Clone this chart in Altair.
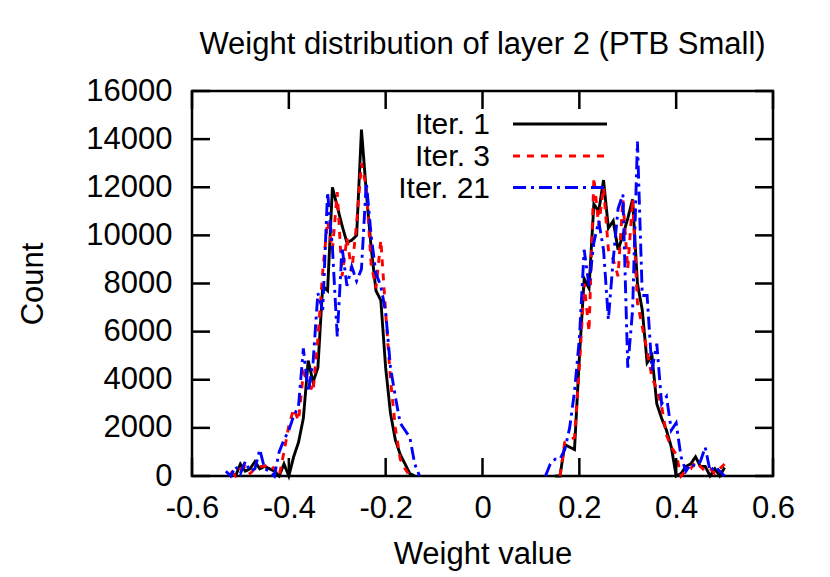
import altair as alt
import pandas as pd

# ---------------- data ----------------
left_x = [-0.53, -0.52, -0.51, -0.50, -0.49, -0.48, -0.47, -0.46, -0.45, -0.44,
          -0.43, -0.42, -0.41, -0.40, -0.39, -0.38, -0.37, -0.36, -0.35, -0.34,
          -0.33, -0.32, -0.31, -0.30, -0.29, -0.28, -0.27, -0.26, -0.25, -0.24,
          -0.23, -0.22, -0.21, -0.20, -0.19, -0.18, -0.17, -0.16, -0.15, -0.14,
          -0.13]
right_x = [0.13, 0.14, 0.15, 0.16, 0.17, 0.18, 0.19, 0.20, 0.21, 0.22,
           0.23, 0.24, 0.25, 0.26, 0.27, 0.28, 0.29, 0.30, 0.31, 0.32,
           0.33, 0.34, 0.35, 0.36, 0.37, 0.38, 0.39, 0.40, 0.41, 0.42,
           0.43, 0.44, 0.45, 0.46, 0.47, 0.48, 0.49, 0.50, 0.51]

iter1_left = [None, None, 0, 500, 200, 300, 600, 300, 400, 300,
              200, 0, 500, 0, 800, 1400, 2400, 4800, 3900, 4500,
              7900, 7700, 12000, 11200, 10400, 9700, 9800, 10000, 14400, 11800,
              9500, 7700, 7300, 4500, 2600, 1500, 900, 500, 100, 0,
              None]
iter3_left = [None, 200, 0, 300, 400, 100, 300, 400, 400, 500,
              300, 0, 1000, 2100, 2800, 2300, 4300, 3900, 3500, 5700,
              8500, 10600, 9400, 11800, 8300, 9900, 8500, 10500, 13000, 12000,
              8800, 7800, 9800, 6800, 4000, 2000, 700, 300, 0, None,
              None]
iter21_left = [200, 0, 400, 100, 600, 200, 300, 1100, 300, 200,
               0, 1000, 1500, 1900, 2500, 2900, 5300, 3500, 4700, 7600,
               6900, 11800, 9500, 5800, 9500, 7900, 8700, 8100, 8600, 12200,
               10000, 8400, 7900, 6800, 4500, 3300, 2200, 1900, 1600, 500,
               0]

iter1_right = [None, None, 0, 0, 1300, 1200, 1100, 4900, 8200, 7800,
               11300, 11000, 12300, 10300, 10600, 9400, 10000, 10700, 11500, 8000,
               6900, 4700, 5000, 3000, 2400, 1900, 1200, 0, 100, 400,
               500, 800, 400, 400, 0, 300, 0, 350, None]
iter3_right = [None, None, None, 0, 1400, 1500, 1600, 4500, 8000, 6000,
               12400, 10400, 12000, 9400, 9000, 8300, 11500, 8600, 11500, 7200,
               6200, 5200, 4100, 3600, 2900, 1700, 1200, 900, 0, 200,
               300, 600, 400, 200, 300, 100, 300, 500, None]
iter21_right = [0, 500, 700, 700, 1100, 2000, 3500, 5700, 9400, 7900,
                9700, 10600, 9400, 6500, 9000, 11100, 11700, 4500, 6900, 13900,
                7500, 7500, 4400, 5500, 3000, 3300, 1900, 2200, 800, 200,
                500, 400, 600, 1200, 200, 400, 200, 0, None]

series_names = ["Iter. 1", "Iter. 3", "Iter. 21"]
series_colors = ["#000000", "#ff0000", "#0000ff"]
series_dash = [[1, 0], [7, 7], [13, 5, 3, 5]]

x_ticks = [-0.6, -0.4, -0.2, 0, 0.2, 0.4, 0.6]
y_ticks = [0, 2000, 4000, 6000, 8000, 10000, 12000, 14000, 16000]

# ---------------- table ----------------
rows = []
for name, lv, rv in zip(series_names,
                        [iter1_left, iter3_left, iter21_left],
                        [iter1_right, iter3_right, iter21_right]):
    for xv, yv in zip(left_x, lv):
        if yv is not None:
            rows.append({"series": name, "part": "L", "w": xv, "count": yv})
    for xv, yv in zip(right_x, rv):
        if yv is not None:
            rows.append({"series": name, "part": "R", "w": xv, "count": yv})
df = pd.DataFrame(rows)

W, H = 581, 385
FONT = "Liberation Sans"
FS = 31
LFS = 30

xscale = alt.Scale(domain=[-0.6, 0.6], nice=False, zero=False)
yscale = alt.Scale(domain=[0, 16000], nice=False)

x_label_expr = ("datum.value < 0 ? '-' + format(-datum.value, '.1f') : "
                "(datum.value == 0 ? '0' : format(datum.value, '.1f'))")

x_axis = alt.Axis(values=x_ticks, labelExpr=x_label_expr, title="Weight value",
                  labelFlush=False, labelPadding=17,
                  titleX=W / 2, titleY=87, titleBaseline="alphabetic", titleAnchor="middle")
y_axis = alt.Axis(values=y_ticks, format="d", title="Count", labelFlush=False,
                  labelPadding=20,
                  titleX=-150, titleY=H / 2, titleBaseline="alphabetic",
                  titleAnchor="middle", titleAngle=270)

base = alt.Chart(df)

layers = []
for name, col, dash in zip(series_names, series_colors, series_dash):
    layers.append(
        base.transform_filter(alt.datum.series == name)
        .mark_line(color=col, strokeDash=dash, strokeWidth=2.9, strokeCap="butt")
        .encode(x=alt.X("w:Q", scale=xscale, axis=x_axis, title="Weight value"),
                y=alt.Y("count:Q", scale=yscale, axis=y_axis, title="Count"),
                detail="part:N")
    )

# inward ticks on all four sides
xt = pd.DataFrame({"t": x_ticks})
yt = pd.DataFrame({"t": y_ticks})
TL = 18
tick_layers = [
    alt.Chart(xt).mark_rule(color="black", strokeWidth=2.5).encode(
        x=alt.X("t:Q", scale=xscale, axis=x_axis, title="Weight value"),
        y=alt.value(H), y2=alt.value(H - TL)),
    alt.Chart(xt).mark_rule(color="black", strokeWidth=2.5).encode(
        x=alt.X("t:Q", scale=xscale, axis=x_axis, title="Weight value"),
        y=alt.value(0), y2=alt.value(TL)),
    alt.Chart(yt).mark_rule(color="black", strokeWidth=2.5).encode(
        y=alt.Y("t:Q", scale=yscale, axis=y_axis, title="Count"),
        x=alt.value(0), x2=alt.value(TL)),
    alt.Chart(yt).mark_rule(color="black", strokeWidth=2.5).encode(
        y=alt.Y("t:Q", scale=yscale, axis=y_axis, title="Count"),
        x=alt.value(W), x2=alt.value(W - TL)),
]

# manual legend (text left of sample line, like gnuplot)
leg_y = [33, 65, 96.5]
leg_layers = []
for name, col, dash, ly in zip(series_names, series_colors, series_dash, leg_y):
    ld = pd.DataFrame({"label": [name]})
    leg_layers.append(
        alt.Chart(ld).mark_text(align="right", baseline="middle", font=FONT,
                                fontSize=LFS, color="black")
        .encode(text="label:N", x=alt.value(298), y=alt.value(ly + 1))
    )
    leg_layers.append(
        alt.Chart(ld).mark_rule(color=col, strokeDash=dash, strokeWidth=2.9, strokeCap="butt")
        .encode(x=alt.value(321), x2=alt.value(415), y=alt.value(ly))
    )

chart = alt.layer(*layers, *tick_layers, *leg_layers).properties(
    width=W, height=H, background="white",
    title=alt.TitleParams("Weight distribution of layer 2 (PTB Small)", font=FONT,
                          fontSize=FS, fontWeight="normal", anchor="middle",
                          baseline="alphabetic", offset=-10, frame="group", color="black"),
    autosize=alt.AutoSizeParams(type="none"),
    padding={"left": 184, "top": 83, "right": 40, "bottom": 100},
).configure_view(
    stroke="black", strokeWidth=2.5
).configure_axis(
    grid=False, domain=False, ticks=False, tickSize=0,
    labelFont=FONT, labelFontSize=FS, labelColor="black",
    titleFont=FONT, titleFontSize=FS, titleFontWeight="normal", titleColor="black",
)

chart.save("out.html", embed_options={"renderer": "svg", "actions": False})
